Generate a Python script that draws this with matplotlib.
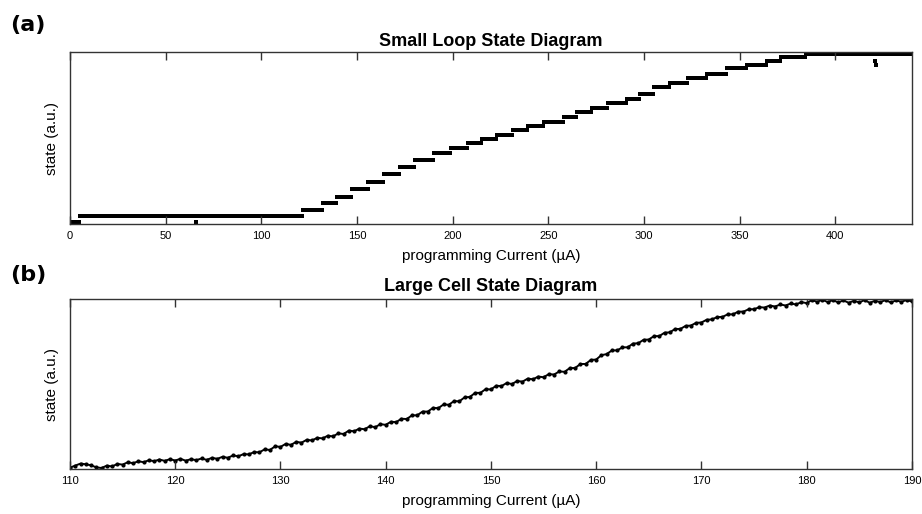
import numpy as np
import matplotlib
matplotlib.use("Agg")
import matplotlib.pyplot as plt

plt.rcParams["font.family"] = ["Liberation Sans", "DejaVu Sans"]

# --- Panel (a): small loop, staircase levels ---
a_step_start = [0, 5, 122, 132, 139.5, 147.4, 155.7, 163.6, 172.5, 180.3,
                189.7, 198.6, 208, 215.3, 223, 231.5, 239.3, 247.2, 257.6,
                265, 272.8, 280.6, 291, 298, 305, 313.5, 323, 333, 343.5,
                354, 364.5, 371.5, 384.5]
a_step_level = [0.012, 0.045, 0.082, 0.121, 0.158, 0.203, 0.247, 0.29,
                0.329, 0.37, 0.413, 0.443, 0.472, 0.495, 0.52, 0.544, 0.569,
                0.595, 0.624, 0.651, 0.677, 0.704, 0.729, 0.758, 0.794,
                0.819, 0.848, 0.871, 0.905, 0.926, 0.95, 0.97, 0.99]
a_end = 440
a_outlier_x = [65.8, 420.5, 421.0]
a_outlier_y = [0.012, 0.95, 0.925]
a_ticks = [0, 50, 100, 150, 200, 250, 300, 350, 400]

# --- Panel (b): large cell, state read every 0.5 uA from 110 to 190 ---
b_start = 110
b_state = [
    0.008, 0.020, 0.032, 0.028, 0.022, 0.010, 0.006, 0.020, 0.015, 0.030,
    0.026, 0.040, 0.034, 0.046, 0.040, 0.052, 0.046, 0.056, 0.048, 0.058,
    0.050, 0.060, 0.049, 0.058, 0.052, 0.062, 0.054, 0.066, 0.060, 0.072,
    0.066, 0.080, 0.075, 0.088, 0.086, 0.100, 0.098, 0.116, 0.112, 0.134,
    0.130, 0.148, 0.142, 0.160, 0.155, 0.172, 0.168, 0.184, 0.180, 0.196,
    0.192, 0.210, 0.206, 0.226, 0.222, 0.238, 0.234, 0.252, 0.246, 0.264,
    0.260, 0.278, 0.276, 0.296, 0.294, 0.316, 0.316, 0.338, 0.338, 0.360,
    0.358, 0.380, 0.378, 0.400, 0.398, 0.422, 0.424, 0.448, 0.448, 0.470,
    0.468, 0.490, 0.488, 0.506, 0.500, 0.518, 0.514, 0.532, 0.528, 0.544,
    0.540, 0.558, 0.556, 0.574, 0.572, 0.594, 0.594, 0.618, 0.618, 0.642,
    0.644, 0.670, 0.676, 0.698, 0.698, 0.716, 0.716, 0.738, 0.740, 0.760,
    0.762, 0.782, 0.782, 0.802, 0.804, 0.824, 0.824, 0.842, 0.844, 0.860,
    0.862, 0.878, 0.880, 0.894, 0.895, 0.910, 0.910, 0.926, 0.926, 0.940,
    0.940, 0.952, 0.950, 0.962, 0.956, 0.968, 0.962, 0.974, 0.968, 0.982,
    0.976, 0.994, 0.984, 0.996, 0.982, 0.994, 0.980, 0.992, 0.978, 0.990,
    0.980, 0.994, 0.978, 0.990, 0.982, 0.994, 0.980, 0.992, 0.984, 0.994,
    0.986,
]
b_ticks = [110, 120, 130, 140, 150, 160, 170, 180, 190]

fig = plt.figure(figsize=(9.22, 5.14), dpi=100)
ax_a = fig.add_axes([0.0759, 0.5642, 0.9131, 0.3346])
ax_b = fig.add_axes([0.0759, 0.0875, 0.9131, 0.3307])

# staircase points on the 0.5 uA sweep grid
sweep = np.arange(0, a_end + 0.01, 0.5)
idx = np.searchsorted(a_step_start, sweep, side="right") - 1
state_a = np.array(a_step_level)[idx]
ax_a.scatter(sweep, state_a, s=7, marker="s", color="black", linewidths=0)
ax_a.scatter(a_outlier_x, a_outlier_y, s=6, marker="s", color="black",
             linewidths=0)

b_x = b_start + 0.5 * np.arange(len(b_state))
ax_b.plot(b_x, b_state, color="black", lw=1.4)
ax_b.scatter(b_x, b_state, s=9, marker="o", color="black", linewidths=0)

for ax, ticks, xlim, title, tpad in [
    (ax_a, a_ticks, (0, 440), "Small Loop State Diagram", 4),
    (ax_b, b_ticks, (110, 190), "Large Cell State Diagram", 6),
]:
    ax.set_xlim(*xlim)
    ax.set_ylim(0, 1.0)
    ax.set_xticks(ticks)
    ax.set_yticks([])
    ax.tick_params(axis="x", direction="in", top=True, length=6,
                   width=1, labelsize=8, pad=5, color="#333333")
    ax.set_title(title, fontsize=13, fontweight="bold", pad=tpad)
    ax.set_xlabel("programming Current (\u00b5A)", fontsize=11, labelpad=6)
    ax.set_ylabel("state (a.u.)", fontsize=11, labelpad=8)
    for sp in ax.spines.values():
        sp.set_linewidth(1)
        sp.set_color("#333333")

fig.text(0.011, 0.951, "(a)", fontsize=16, fontweight="bold",
         family="DejaVu Sans", va="center", ha="left")
fig.text(0.011, 0.465, "(b)", fontsize=16, fontweight="bold",
         family="DejaVu Sans", va="center", ha="left")

fig.savefig("out.png", dpi=100)
